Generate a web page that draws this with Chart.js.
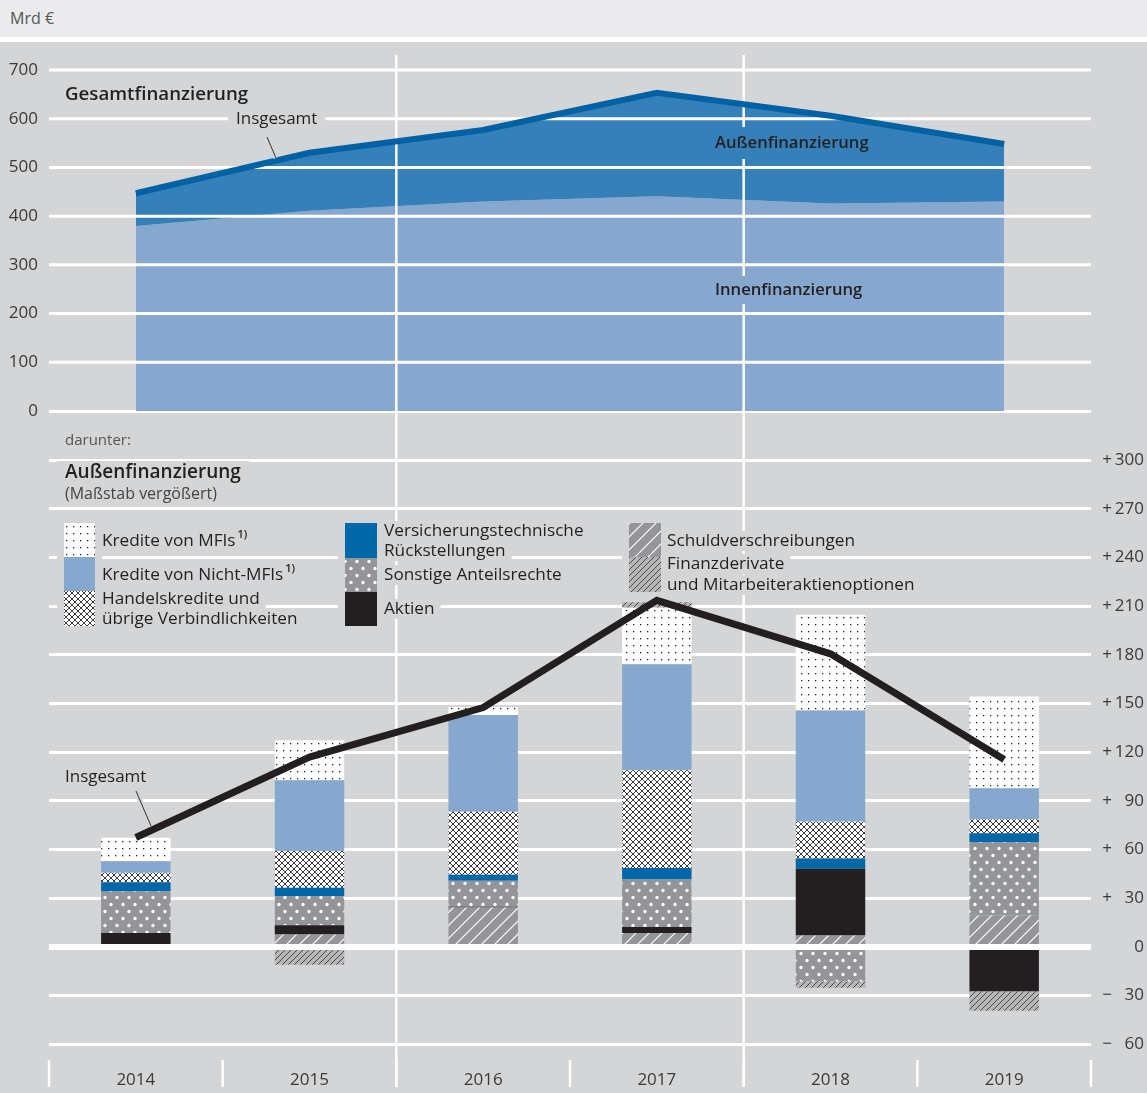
<!DOCTYPE html>
<html>
<head>
<meta charset="utf-8">
<script src="https://cdn.jsdelivr.net/npm/chart.js@4.4.1/dist/chart.umd.min.js"></script>
<style>
body{margin:0;width:1147px;height:1093px;background:#d4d5d7;position:relative;overflow:hidden;font-family:'Open Sans',sans-serif}
#head{position:absolute;left:0;top:0;width:1147px;height:37px;background:#ebebed}
#head span{position:absolute;left:10px;top:7px;font-size:16px;color:#555}
#gap{position:absolute;left:0;top:37px;width:1147px;height:5px;background:#fff}
canvas{position:absolute;left:0}
#top{top:42px}
#bottom{top:425px}
</style>
</head>
<body>
<div id="head"><span>Mrd €</span></div>
<div id="gap"></div>
<canvas id="top" width="1147" height="383"></canvas>
<canvas id="bottom" width="1147" height="668"></canvas>
<script>
//---------------- data -----------------------------------------------
var years = ["2014", "2015", "2016", "2017", "2018", "2019"];

// Gesamtfinanzierung (upper panel)
var innenfinanzierung = [380, 411, 430, 441, 426, 430];
var gesamtInsgesamt = [447, 530, 577, 653, 606, 548];

// darunter: Außenfinanzierung (lower panel), stacked from the zero line outwards
var schuldverschreibungen = [0, 7.7, 24.3, 8.5, 7.1, 19.4];
var aktien = [8.5, 5.7, 0.5, 3.7, 41.1, -27.3];
var sonstigeAnteilsrechte = [25.7, 17.9, 16.0, 29.4, -21.1, 45.0];
var versicherung = [5.7, 5.2, 3.7, 7.0, 6.2, 5.7];
var handelskredite = [5.8, 22.6, 38.8, 60.2, 22.9, 8.5];
var krediteNichtMFI = [7.1, 43.6, 59.6, 65.3, 68.4, 19.2];
var krediteMFI = [14.4, 24.7, 4.9, 34.9, 59.0, 56.5];
var finanzderivate = [0, -11.0, 0, 3.4, -4.1, -12.1];
var aussenInsgesamt = [67.4, 117, 147.5, 213.5, 180.6, 115.5];

//---------------- helpers --------------------------------------------
var BG = '#d4d5d7';
var TXT = '#231f20';
var FONT = "'Open Sans', 'Noto Sans', sans-serif";

var bctx = document.getElementById('bottom').getContext('2d');
function makePattern(w, h, draw) {
  var c = document.createElement('canvas');
  c.width = w; c.height = h;
  draw(c.getContext('2d'), w, h);
  return bctx.createPattern(c, 'repeat');
}

var pMFI = makePattern(7, 7, function (g) {
  g.fillStyle = '#fff'; g.fillRect(0, 0, 7, 7);
  g.fillStyle = '#222'; g.fillRect(3, 3, 1.3, 1.3);
});
var pHandel = makePattern(6, 6, function (g) {
  g.fillStyle = '#fff'; g.fillRect(0, 0, 6, 6);
  g.strokeStyle = '#3a3a3a'; g.lineWidth = 1;
  g.beginPath(); g.moveTo(0, 0); g.lineTo(6, 6); g.moveTo(6, 0); g.lineTo(0, 6); g.stroke();
});
var pSonstige = makePattern(12, 14, function (g) {
  g.fillStyle = '#939598'; g.fillRect(0, 0, 12, 14);
  g.fillStyle = '#fff';
  g.beginPath(); g.arc(3, 3.5, 1.7, 0, 7); g.fill();
  g.beginPath(); g.arc(9, 10.5, 1.7, 0, 7); g.fill();
});
var pSchuld = makePattern(13, 13, function (g) {
  g.fillStyle = '#939598'; g.fillRect(0, 0, 13, 13);
  g.strokeStyle = '#fff'; g.lineWidth = 1.2;
  g.beginPath(); g.moveTo(0, 13); g.lineTo(13, 0);
  g.moveTo(-2, 2); g.lineTo(2, -2); g.moveTo(11, 15); g.lineTo(15, 11); g.stroke();
});
var pFinanz = makePattern(6, 6, function (g) {
  g.fillStyle = '#b5b6b8'; g.fillRect(0, 0, 6, 6);
  g.strokeStyle = '#4a4a4a'; g.lineWidth = 1;
  g.beginPath(); g.moveTo(0, 6); g.lineTo(6, 0);
  g.moveTo(-1, 1); g.lineTo(1, -1); g.moveTo(5, 7); g.lineTo(7, 5); g.stroke();
});

// x pixel of the border between category i-1 and i
function boundaryX(xs, i) {
  var step = xs.getPixelForValue(1) - xs.getPixelForValue(0);
  return xs.getPixelForValue(0) + (i - 0.5) * step;
}
function vLine(ctx, x, y0, y1) {
  ctx.beginPath(); ctx.moveTo(x, y0); ctx.lineTo(x, y1); ctx.stroke();
}
function labelBox(ctx, txt, x, y, bg, padX, padY) {
  var w = ctx.measureText(txt).width;
  if (bg) { ctx.fillStyle = bg; ctx.fillRect(x - padX, y - padY, w + 2 * padX, 2 * padY); }
  ctx.fillStyle = TXT;
  ctx.fillText(txt, x, y);
  return w;
}
function leader(ctx, x0, y0, x1, y1) {
  ctx.strokeStyle = BG; ctx.lineWidth = 5;
  ctx.beginPath(); ctx.moveTo(x0, y0); ctx.lineTo(x1, y1); ctx.stroke();
  ctx.strokeStyle = '#333'; ctx.lineWidth = 1;
  ctx.beginPath(); ctx.moveTo(x0, y0); ctx.lineTo(x1, y1); ctx.stroke();
}

//---------------- upper chart ----------------------------------------
var topOverlay = {
  id: 'topOverlay',
  beforeDatasetDraw: function (chart, args) {
    if (args.index !== 1) return;
    var ctx = chart.ctx, a = chart.chartArea, ys = chart.scales.y, xs = chart.scales.x;
    ctx.save();
    ctx.strokeStyle = '#fff'; ctx.lineWidth = 3;
    ys.ticks.forEach(function (t) {
      if (t.value === 0) return;
      var py = ys.getPixelForValue(t.value);
      ctx.beginPath(); ctx.moveTo(a.left, py); ctx.lineTo(a.right, py); ctx.stroke();
    });
    ctx.lineWidth = 2.5;
    vLine(ctx, boundaryX(xs, 2), 13, chart.height);
    vLine(ctx, boundaryX(xs, 4), 13, chart.height);
    ctx.restore();
  },
  afterDatasetsDraw: function (chart) {
    var ctx = chart.ctx;
    ctx.save();
    ctx.textBaseline = 'middle';
    ctx.font = '600 18.7px ' + FONT;
    labelBox(ctx, 'Gesamtfinanzierung', 65, 53, null);
    ctx.font = '17px ' + FONT;
    labelBox(ctx, 'Insgesamt', 236, 77, BG, 8, 10);
    leader(ctx, 267, 95, 276, 116);
    ctx.font = '600 16.6px ' + FONT;
    labelBox(ctx, 'Außenfinanzierung', 715, 101, '#3680b9', 3, 16);
    labelBox(ctx, 'Innenfinanzierung', 715, 248, '#86a8cf', 3, 14);
    ctx.restore();
  }
};

new Chart(document.getElementById('top'), {
  type: 'line',
  data: {
    labels: years,
    datasets: [{
      label: 'Innenfinanzierung',
      data: innenfinanzierung,
      fill: 'origin',
      backgroundColor: '#86a8cf',
      borderColor: 'rgba(0,0,0,0)',
      borderWidth: 0,
      pointRadius: 0,
      order: 1
    }, {
      label: 'Insgesamt',
      data: gesamtInsgesamt,
      fill: '-1',
      backgroundColor: '#3680b9',
      borderColor: '#0062a4',
      borderWidth: 6,
      borderCapStyle: 'butt',
      pointRadius: 0,
      order: 0
    }]
  },
  options: {
    responsive: false,
    animation: false,
    devicePixelRatio: 1,
    layout: { padding: { left: 0, right: 56, top: 28, bottom: 14 } },
    plugins: { legend: { display: false }, tooltip: { enabled: false } },
    scales: {
      x: { display: false, offset: true, grid: { drawTicks: false } },
      y: {
        min: 0, max: 700,
        border: { display: false },
        grid: {
          color: function (c) { return c.tick && c.tick.value === 0 ? '#fff' : 'rgba(0,0,0,0)'; },
          lineWidth: 3, drawTicks: false
        },
        ticks: { stepSize: 100, padding: 11, color: '#3a3a3a', font: { family: FONT, size: 17 } },
        afterFit: function (s) { s.width = 49; s.paddingTop = 0; s.paddingBottom = 0; }
      }
    }
  },
  plugins: [topOverlay]
});

//---------------- lower chart ----------------------------------------
var OFF = 425; // page y of the lower canvas
var legendCols = [
  { sx: 64, sw: 31, tx: 102, items: [
    { fill: pMFI, y0: 523, y1: 557, lines: [['Kredite von MFIs', 541, '1)']] },
    { fill: '#86a8cf', y0: 557, y1: 591, lines: [['Kredite von Nicht-MFIs', 575, '1)']] },
    { fill: pHandel, y0: 591, y1: 626, lines: [['Handelskredite und', 599], ['übrige Verbindlichkeiten', 619]] }
  ] },
  { sx: 345, sw: 32, tx: 384, items: [
    { fill: '#0068a8', y0: 523, y1: 558, lines: [['Versicherungstechnische', 531], ['Rückstellungen', 551]] },
    { fill: pSonstige, y0: 558, y1: 592, lines: [['Sonstige Anteilsrechte', 575]] },
    { fill: '#231f20', y0: 592, y1: 626, lines: [['Aktien', 609]] }
  ] },
  { sx: 629, sw: 32, tx: 667, items: [
    { fill: pSchuld, y0: 523, y1: 557, lines: [['Schuldverschreibungen', 541]] },
    { fill: pFinanz, y0: 557, y1: 592, lines: [['Finanzderivate', 564], ['und Mitarbeiteraktienoptionen', 585]] }
  ] }
];

var bottomOverlay = {
  id: 'bottomOverlay',
  beforeDatasetsDraw: function (chart) {
    var ctx = chart.ctx, xs = chart.scales.x;
    ctx.save();
    ctx.strokeStyle = '#fff'; ctx.lineWidth = 2.5;
    vLine(ctx, boundaryX(xs, 2), 0, 662);
    vLine(ctx, boundaryX(xs, 4), 0, 662);
    for (var i = 0; i <= years.length; i++) vLine(ctx, boundaryX(xs, i), 635, 662);

    ctx.textBaseline = 'middle';
    ctx.font = '15px ' + FONT;
    ctx.fillStyle = '#555';
    ctx.fillText('darunter:', 65, 441 - OFF);
    ctx.font = '600 19px ' + FONT;
    labelBox(ctx, 'Außenfinanzierung', 65, 473 - OFF, BG, 8, 12);
    ctx.font = '16px ' + FONT;
    var w = ctx.measureText('(Maßstab vergößert)').width;
    ctx.fillStyle = BG; ctx.fillRect(57, 494 - OFF - 10, w + 16, 20);
    ctx.fillStyle = '#444'; ctx.fillText('(Maßstab vergößert)', 65, 494 - OFF);

    legendCols.forEach(function (col) {
      var top = col.items[0].y0, bot = col.items[col.items.length - 1].y1;
      ctx.fillStyle = BG;
      ctx.fillRect(col.sx - 7, top - OFF - 2, col.tx - col.sx + 7, bot - top + 4);
      col.items.forEach(function (it) {
        ctx.fillStyle = it.fill;
        ctx.fillRect(col.sx, it.y0 - OFF, col.sw, it.y1 - it.y0);
        it.lines.forEach(function (ln) {
          ctx.font = '17.2px ' + FONT;
          var tw = labelBox(ctx, ln[0], col.tx, ln[1] - OFF, BG, 6, 10);
          if (ln[2]) {
            ctx.font = '600 11px ' + FONT;
            ctx.fillStyle = TXT;
            ctx.fillText(ln[2], col.tx + tw + 2, ln[1] - OFF - 6);
          }
        });
      });
    });

    ctx.font = '17px ' + FONT;
    labelBox(ctx, 'Insgesamt', 65, 777 - OFF, BG, 4, 10);
    leader(ctx, 136, 791 - OFF, 151, 826 - OFF);
    ctx.restore();
  },
  afterDatasetsDraw: function (chart) {
    var ctx = chart.ctx, a = chart.chartArea, ys = chart.scales.y;
    var p0 = ys.getPixelForValue(0);
    ctx.save();
    ctx.strokeStyle = '#fff'; ctx.lineWidth = 6;
    ctx.beginPath(); ctx.moveTo(a.left, p0); ctx.lineTo(a.right, p0); ctx.stroke();
    ctx.restore();
  }
};

function barSet(label, data, fill) {
  return { type: 'bar', label: label, data: data, backgroundColor: fill, borderWidth: 0, order: 1,
           barPercentage: 0.4, categoryPercentage: 1.0 };
}

new Chart(document.getElementById('bottom'), {
  type: 'bar',
  data: {
    labels: years,
    datasets: [
      barSet('Schuldverschreibungen', schuldverschreibungen, pSchuld),
      barSet('Aktien', aktien, '#231f20'),
      barSet('Sonstige Anteilsrechte', sonstigeAnteilsrechte, pSonstige),
      barSet('Versicherungstechnische Rückstellungen', versicherung, '#0068a8'),
      barSet('Handelskredite und übrige Verbindlichkeiten', handelskredite, pHandel),
      barSet('Kredite von Nicht-MFIs', krediteNichtMFI, '#86a8cf'),
      barSet('Kredite von MFIs', krediteMFI, pMFI),
      barSet('Finanzderivate und Mitarbeiteraktienoptionen', finanzderivate, pFinanz),
      {
        type: 'line', label: 'Insgesamt', data: aussenInsgesamt,
        borderColor: '#231f20', borderWidth: 7, borderCapStyle: 'butt',
        pointRadius: 0, fill: false, order: 0
      }
    ]
  },
  options: {
    responsive: false,
    animation: false,
    devicePixelRatio: 1,
    layout: { padding: { left: 49, right: 3, top: 35, bottom: 0 } },
    plugins: { legend: { display: false }, tooltip: { enabled: false } },
    scales: {
      x: {
        stacked: true,
        border: { display: false },
        grid: { display: false, drawTicks: false },
        ticks: { padding: 26, color: '#3a3a3a', font: { family: FONT, size: 17 } },
        afterFit: function (s) { s.height = 48.7; }
      },
      y: {
        stacked: true,
        position: 'right',
        min: -60, max: 300,
        border: { display: false },
        grid: {
          color: function (c) { return c.tick && c.tick.value === 0 ? 'rgba(0,0,0,0)' : '#fff'; },
          lineWidth: 3, drawTicks: false
        },
        ticks: {
          stepSize: 30, crossAlign: 'far', color: '#3a3a3a', font: { family: FONT, size: 17 },
          callback: function (v) {
            if (v === 0) return '0';
            var s = String(Math.abs(v));
            while (s.length < 3) s = '\u2007' + s;
            return (v > 0 ? '+' : '\u2212') + '\u2009' + s;
          }
        },
        afterFit: function (s) { s.width = 53; }
      }
    }
  },
  plugins: [bottomOverlay]
});
</script>
</body>
</html>
